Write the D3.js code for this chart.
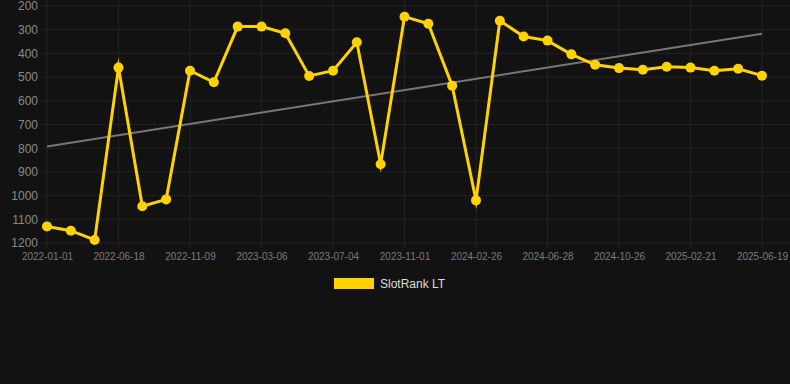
<!DOCTYPE html>
<html>
<head>
<meta charset="utf-8">
<script src="https://cdn.jsdelivr.net/npm/d3@7"></script>
<style>
  body { margin: 0; background: #121212; }
  svg { display: block; font-family: Arial, "Liberation Sans", sans-serif; }
</style>
</head>
<body>
<div id="chart"></div>
<script>
// one point per sample; only every 3rd date is printed on the axis
var dates = [
  "2022-01-01", "2022-02-26", "2022-04-23", "2022-06-18", "2022-08-05", "2022-09-22",
  "2022-11-09", "2022-12-21", "2023-02-01", "2023-03-06", "2023-04-15", "2023-05-25",
  "2023-07-04", "2023-08-13", "2023-09-22", "2023-11-01", "2023-12-10", "2024-01-18",
  "2024-02-26", "2024-04-07", "2024-05-18", "2024-06-28", "2024-08-07", "2024-09-16",
  "2024-10-26", "2024-12-03", "2025-01-13", "2025-02-21", "2025-04-01", "2025-05-10",
  "2025-06-19"
];
var rank = [
  1130, 1148, 1187, 460, 1045, 1016, 473, 522, 287, 287, 315, 495, 473, 353, 868, 245,
  275, 536, 1020, 262, 329, 346, 404, 448, 462, 469, 456, 460, 473, 465, 494
];
var yTicks = [200, 300, 400, 500, 600, 700, 800, 900, 1000, 1100, 1200];
var seriesName = "SlotRank LT";

var svgWidth = 790;
var svgHeight = 384;
var margin = { top: 6, right: 28, bottom: 141, left: 47 };
var width = svgWidth - margin.left - margin.right;
var height = svgHeight - margin.top - margin.bottom;

var svg = d3.select("#chart")
  .append("svg")
  .attr("width", svgWidth)
  .attr("height", svgHeight);

svg.append("rect")
  .attr("width", svgWidth)
  .attr("height", svgHeight)
  .attr("fill", "#121212");

var chartGroup = svg.append("g")
  .attr("transform", `translate(${margin.left}, ${margin.top})`);

var xScale = d3.scalePoint()
  .domain(dates)
  .range([0, width]);

var yScale = d3.scaleLinear()
  .domain([200, 1200])
  .range([0, height]);

var shownDates = dates.filter((d, i) => i % 3 === 0);

// grid
chartGroup.append("g")
  .selectAll("line")
  .data(yTicks)
  .enter()
  .append("line")
  .attr("x1", -6)
  .attr("x2", width + 28)
  .attr("y1", d => yScale(d))
  .attr("y2", d => yScale(d))
  .attr("stroke", "#222")
  .attr("stroke-width", 1);

chartGroup.append("g")
  .selectAll("line")
  .data(shownDates)
  .enter()
  .append("line")
  .attr("x1", d => xScale(d))
  .attr("x2", d => xScale(d))
  .attr("y1", -6)
  .attr("y2", height + 5)
  .attr("stroke", "#222")
  .attr("stroke-width", 1);

// axes
var leftAxis = d3.axisLeft(yScale)
  .tickValues(yTicks)
  .tickFormat(d3.format("d"))
  .tickSize(0)
  .tickPadding(9);
var bottomAxis = d3.axisBottom(xScale).tickValues(shownDates).tickSize(0).tickPadding(10);

var yAxisG = chartGroup.append("g").call(leftAxis);
yAxisG.select(".domain").remove();
yAxisG.selectAll("text")
  .attr("fill", "#8a8a8a")
  .style("font-size", "12px");

var xAxisG = chartGroup.append("g")
  .attr("transform", `translate(0, ${height})`)
  .call(bottomAxis);
xAxisG.select(".domain").remove();
xAxisG.selectAll("text")
  .attr("fill", "#7a7a7a")
  .style("font-size", "10px");

// linear trend through the series
var n = rank.length;
var meanX = d3.mean(rank, (d, i) => i);
var meanY = d3.mean(rank);
var slope = d3.sum(rank, (d, i) => (i - meanX) * (d - meanY)) /
  d3.sum(rank, (d, i) => (i - meanX) * (i - meanX));
var intercept = meanY - slope * meanX;

chartGroup.append("line")
  .attr("x1", xScale(dates[0]))
  .attr("y1", yScale(intercept))
  .attr("x2", xScale(dates[n - 1]))
  .attr("y2", yScale(intercept + slope * (n - 1)))
  .attr("stroke", "#777")
  .attr("stroke-width", 2);

// series
var line = d3.line()
  .x((d, i) => xScale(dates[i]))
  .y(d => yScale(d));

chartGroup.append("path")
  .datum(rank)
  .attr("d", line)
  .attr("fill", "none")
  .attr("stroke", "#ffd200")
  .attr("stroke-width", 3)
  .attr("stroke-linejoin", "miter")
  .attr("stroke-miterlimit", 10);

chartGroup.selectAll("circle")
  .data(rank)
  .enter()
  .append("circle")
  .attr("cx", (d, i) => xScale(dates[i]))
  .attr("cy", d => yScale(d))
  .attr("r", 5)
  .attr("fill", "#ffd200");

// legend
var legend = svg.append("g")
  .attr("transform", "translate(334, 278)");

legend.append("rect")
  .attr("width", 40)
  .attr("height", 11)
  .attr("fill", "#ffd200");

legend.append("text")
  .attr("x", 46)
  .attr("y", 6)
  .attr("dy", "0.35em")
  .attr("fill", "#dddddd")
  .style("font-size", "12px")
  .text(seriesName);
</script>
</body>
</html>
